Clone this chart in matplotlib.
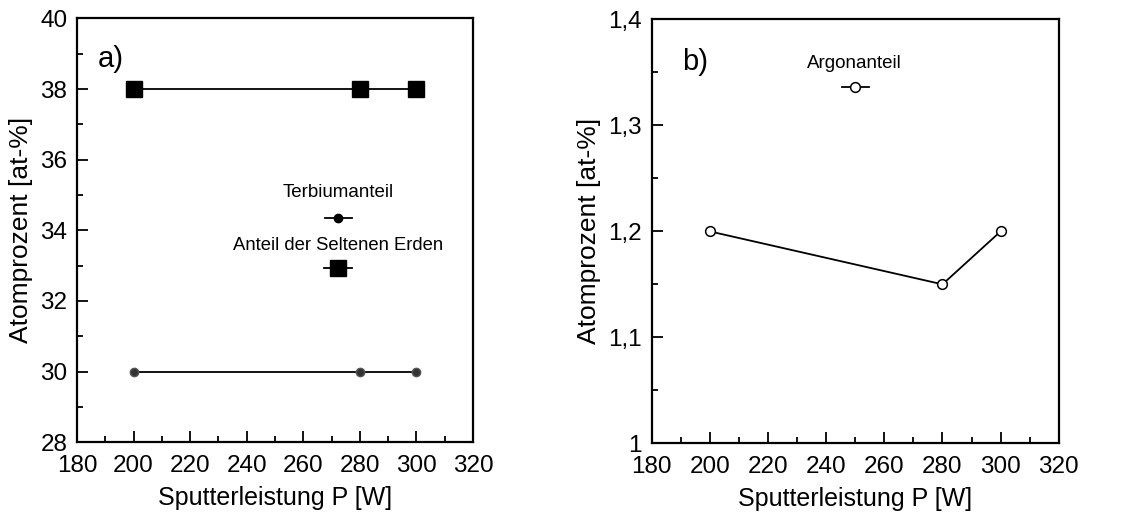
import matplotlib.pyplot as plt
from matplotlib.ticker import MultipleLocator, FixedLocator, FixedFormatter

plt.rcParams['font.family'] = ['Liberation Sans', 'DejaVu Sans']

# Sputterleistung [W]
power = [200, 280, 300]

# a) Terbium und Seltene Erden [at-%]
terbium = [30, 30, 30]
rare_earths = [38, 38, 38]

# b) Argon [at-%]
argon = [1.20, 1.15, 1.20]

fig = plt.figure(figsize=(11.41, 5.13), dpi=100)
ax1 = fig.add_axes([0.0675, 0.138, 0.347, 0.826])
ax2 = fig.add_axes([0.571, 0.136, 0.357, 0.826])


def style_axes(ax):
    for s in ax.spines.values():
        s.set_linewidth(1.6)
    ax.tick_params(which='both', direction='in', top=False, right=False,
                   labelsize=17.5, width=1.3)
    ax.tick_params(which='major', length=8)
    ax.tick_params(which='minor', length=4.5)
    ax.tick_params(axis='x', which='major', pad=9)
    ax.tick_params(axis='y', which='major', pad=7)
    ax.set_xlim(180, 320)
    ax.xaxis.set_major_locator(MultipleLocator(20))
    ax.xaxis.set_minor_locator(MultipleLocator(10))
    ax.set_xlabel('Sputterleistung P [W]', fontsize=18, labelpad=7)
    ax.set_ylabel('Atomprozent [at-%]', fontsize=19, labelpad=5)


# a) Seltene Erden
style_axes(ax1)
ax1.set_ylim(28, 40)
ax1.yaxis.set_major_locator(MultipleLocator(2))
ax1.yaxis.set_minor_locator(MultipleLocator(1))

ax1.plot(power, rare_earths, color='black', lw=1.3, marker='s',
         markersize=11, markerfacecolor='black', clip_on=False)
ax1.plot(power, terbium, color='black', lw=1.3, marker='o',
         markersize=6, markerfacecolor='#333333', markeredgecolor='#555555',
         clip_on=False)

ax1.text(0.053, 0.905, 'a)', transform=ax1.transAxes, fontsize=21,
         ha='left', va='center')

# Legende a)
lx = 0.659
ax1.text(lx, 0.59, 'Terbiumanteil', transform=ax1.transAxes, fontsize=13.5,
         ha='center', va='center')
ax1.plot([lx - 0.033, lx + 0.035], [0.528, 0.528], transform=ax1.transAxes,
         color='black', lw=1.3)
ax1.plot([lx], [0.528], transform=ax1.transAxes, marker='o', markersize=6,
         color='black')
ax1.text(lx, 0.465, 'Anteil der Seltenen Erden', transform=ax1.transAxes,
         fontsize=13.3, ha='center', va='center')
ax1.plot([lx - 0.035, lx + 0.035], [0.41, 0.41], transform=ax1.transAxes,
         color='black', lw=1.3)
ax1.plot([lx], [0.41], transform=ax1.transAxes, marker='s', markersize=11,
         color='black')

# b) Argon
style_axes(ax2)
ax2.set_ylim(1.0, 1.4)
y_ticks = [1.0, 1.1, 1.2, 1.3, 1.4]
ax2.yaxis.set_major_locator(FixedLocator(y_ticks))
ax2.yaxis.set_major_formatter(FixedFormatter(['1', '1,1', '1,2', '1,3', '1,4']))
ax2.yaxis.set_minor_locator(MultipleLocator(0.05))

ax2.plot(power, argon, color='black', lw=1.3, marker='o', markersize=7,
         markerfacecolor='white', markeredgecolor='black', mew=1.1)

ax2.text(0.076, 0.9, 'b)', transform=ax2.transAxes, fontsize=21,
         ha='left', va='center')

# Legende b)
bx = 0.499
ax2.text(bx, 0.897, 'Argonanteil', transform=ax2.transAxes, fontsize=13.5,
         ha='center', va='center')
ax2.plot([bx - 0.032, bx + 0.035], [0.84, 0.84], transform=ax2.transAxes,
         color='black', lw=1.3)
ax2.plot([bx], [0.84], transform=ax2.transAxes, marker='o', markersize=7,
         markerfacecolor='white', markeredgecolor='black', mew=1.1)

fig.savefig('out.png', dpi=100)
